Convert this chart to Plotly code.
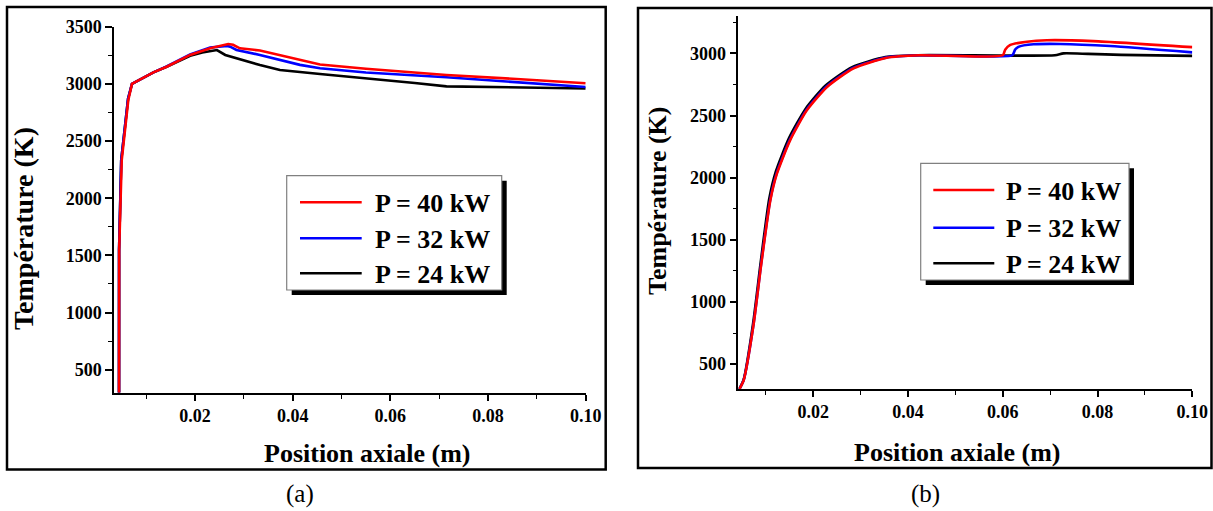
import plotly.graph_objects as go

W, H = 1213, 511

# ---------------- data ----------------
series_names = ["P = 40 kW", "P = 32 kW", "P = 24 kW"]
series_colors = ["#ff0000", "#0000ff", "#000000"]

# panel (a)
xa_40 = [0.00445, 0.00448, 0.0050, 0.0058, 0.00635, 0.0071, 0.0100, 0.0115, 0.0142, 0.0190, 0.0231,
         0.0255, 0.0268, 0.0278, 0.0292, 0.0333, 0.0374, 0.0415, 0.0456, 0.0550, 0.0715, 0.0850, 0.1000]
ya_40 = [300, 1550, 2334, 2625, 2860, 3000, 3068, 3100, 3150, 3253, 3311,
         3335, 3349, 3342, 3311, 3292, 3253, 3209, 3170, 3132, 3078, 3045, 3005]

xa_32 = [0.00445, 0.00446, 0.0049, 0.0057, 0.0063, 0.0071, 0.0100, 0.0115, 0.0142, 0.0190, 0.0231,
         0.0255, 0.0266, 0.0272, 0.0285, 0.0333, 0.0374, 0.0415, 0.0456, 0.0550, 0.0715, 0.0850, 0.1000]
ya_32 = [300, 1550, 2334, 2640, 2870, 3000, 3068, 3100, 3152, 3258, 3318,
         3330, 3332, 3325, 3296, 3253, 3209, 3166, 3136, 3100, 3058, 3018, 2972]

xa_24 = [0.00445, 0.00446, 0.0049, 0.0057, 0.0063, 0.0071, 0.0100, 0.0115, 0.0142, 0.0190, 0.0215,
         0.0235, 0.0245, 0.0262, 0.0292, 0.0333, 0.0374, 0.0395, 0.0415, 0.0456, 0.0550, 0.0650,
         0.0715, 0.0850, 0.1000]
ya_24 = [300, 1550, 2334, 2640, 2870, 3000, 3068, 3100, 3150, 3245, 3275,
         3292, 3296, 3253, 3215, 3165, 3122, 3110, 3104, 3086, 3050, 3008,
         2978, 2968, 2960]

# panel (b)
xb_40 = [0.0044, 0.0053, 0.0074, 0.0090, 0.0109, 0.0123, 0.0151, 0.0186, 0.0229, 0.0285, 0.0355,
         0.0425, 0.0600, 0.0605, 0.0615, 0.0651, 0.0693, 0.0791, 0.1000]
yb_40 = [300, 370, 820, 1300, 1810, 2030, 2300, 2540, 2730, 2880, 2965,
         2985, 2985, 3030, 3067, 3094, 3106, 3099, 3050]

xb_32 = [0.0044, 0.0053, 0.0074, 0.0090, 0.0109, 0.0123, 0.0151, 0.0186, 0.0229, 0.0285, 0.0355,
         0.0425, 0.0620, 0.0626, 0.0633, 0.0665, 0.0721, 0.0827, 0.1000]
yb_32 = [300, 372, 825, 1310, 1820, 2040, 2310, 2548, 2737, 2885, 2968,
         2985, 2985, 3030, 3053, 3073, 3076, 3059, 3008]

xb_24 = [0.0044, 0.0053, 0.0073, 0.0089, 0.0107, 0.0121, 0.0149, 0.0184, 0.0226, 0.0282, 0.0352,
         0.0420, 0.0710, 0.0728, 0.0780, 0.0850, 0.1000]
yb_24 = [300, 375, 830, 1320, 1830, 2050, 2320, 2555, 2742, 2890, 2970,
         2985, 2985, 3000, 2996, 2988, 2980]

# axes ticks / ranges
xa_range = [0.00342, 0.1]
ya_range = [296, 3500]
xb_range = [0.00417, 0.1]
yb_range = [300, 3300]
x_dtick, x_minor = 0.02, 0.01
y_dtick, y_minor = 500, 250

axis_title_x = "Position axiale (m)"
axis_title_y = "Température (K)"
panel_labels = ["(a)", "(b)"]

# ---------------- figure ----------------
def px(x):
    return x / W


def py(y):
    return 1 - y / H


SERIF = "Liberation Serif, Times New Roman, serif"

fig = go.Figure()

panel_a = [(xa_24, ya_24, 2), (xa_32, ya_32, 1), (xa_40, ya_40, 0)]
panel_b = [(xb_24, yb_24, 2), (xb_32, yb_32, 1), (xb_40, yb_40, 0)]

for xs, ys, i in panel_a:
    fig.add_trace(go.Scatter(x=xs, y=ys, mode="lines", name=series_names[i],
                             line=dict(color=series_colors[i], width=2.6),
                             xaxis="x", yaxis="y", showlegend=False))
for xs, ys, i in panel_b:
    fig.add_trace(go.Scatter(x=xs, y=ys, mode="lines", name=series_names[i],
                             line=dict(color=series_colors[i], width=2.6, shape="spline", smoothing=0.6),
                             xaxis="x2", yaxis="y2", showlegend=False))

tickfont = dict(family=SERIF, size=18, color="black", weight="bold")


def xaxis_cfg(domain, rng, anchor):
    return dict(domain=domain, range=rng, anchor=anchor, showline=True, linecolor="black",
                linewidth=1.5, ticks="outside", ticklen=6, tickwidth=1.5, tickcolor="black",
                tick0=0, dtick=x_dtick, tickformat=".2f", tickfont=tickfont,
                showgrid=False, zeroline=False, automargin=False,
                minor=dict(ticks="outside", ticklen=4, tickwidth=1.3, tickcolor="black",
                           tick0=0, dtick=x_minor, showgrid=False))


def yaxis_cfg(domain, rng, anchor):
    return dict(domain=domain, range=rng, anchor=anchor, showline=True, linecolor="black",
                linewidth=1.5, ticks="outside", ticklen=7, tickwidth=1.5, tickcolor="black",
                tick0=0, dtick=y_dtick, tickformat="d", tickfont=tickfont,
                showgrid=False, zeroline=False, automargin=False,
                minor=dict(ticks="outside", ticklen=4, tickwidth=1.3, tickcolor="black",
                           tick0=0, dtick=y_minor, showgrid=False))


fig.update_layout(
    template="none",
    width=W, height=H, autosize=False,
    margin=dict(l=0, r=0, t=0, b=0, pad=0, autoexpand=False),
    paper_bgcolor="white", plot_bgcolor="white",
    xaxis=xaxis_cfg([px(114), px(585.7)], xa_range, "y"),
    yaxis=yaxis_cfg([py(393), py(26.7)], ya_range, "x"),
    xaxis2=xaxis_cfg([px(738.3), px(1192.3)], xb_range, "y2"),
    yaxis2=yaxis_cfg([py(389), py(16.1)], yb_range, "x2"),
    showlegend=False,
)

shapes = []
annotations = []

# panel borders
for (x0, y0, x1, y1) in [(7, 7, 605.7, 469.5), (638, 8, 1211.5, 468)]:
    shapes.append(dict(type="rect", xref="paper", yref="paper",
                       x0=px(x0), x1=px(x1), y0=py(y1), y1=py(y0),
                       line=dict(color="black", width=2.5), fillcolor="rgba(0,0,0,0)"))

# axis titles
title_font = dict(family=SERIF, color="black", weight="bold")
annotations += [
    dict(text=axis_title_x, x=px(367), y=py(453), xref="paper", yref="paper", showarrow=False,
         xanchor="center", yanchor="middle", font=dict(size=26, **title_font)),
    dict(text=axis_title_y, x=px(24), y=py(229), xref="paper", yref="paper", showarrow=False,
         xanchor="center", yanchor="middle", textangle=-90, font=dict(size=28, **title_font)),
    dict(text=axis_title_x, x=px(957), y=py(452), xref="paper", yref="paper", showarrow=False,
         xanchor="center", yanchor="middle", font=dict(size=26, **title_font)),
    dict(text=axis_title_y, x=px(658), y=py(201), xref="paper", yref="paper", showarrow=False,
         xanchor="center", yanchor="middle", textangle=-90, font=dict(size=26, **title_font)),
    dict(text=panel_labels[0], x=px(300), y=py(494), xref="paper", yref="paper", showarrow=False,
         xanchor="center", yanchor="middle", font=dict(family=SERIF, size=25, color="black")),
    dict(text=panel_labels[1], x=px(925), y=py(494), xref="paper", yref="paper", showarrow=False,
         xanchor="center", yanchor="middle", font=dict(family=SERIF, size=25, color="black")),
]

# legends (box + shadow + samples + labels)
legends = [
    dict(box=(286.7, 175.7, 501.7, 290), line_x=(300, 361.7), text_x=373, ys=(202.3, 238.3, 273.3)),
    dict(box=(920.7, 163.3, 1129, 280), line_x=(933.3, 994.3), text_x=1004, ys=(190, 227.7, 263.3)),
]
for lg in legends:
    bx0, by0, bx1, by1 = lg["box"]
    shapes.append(dict(type="rect", xref="paper", yref="paper",
                       x0=px(bx0 + 5), x1=px(bx1 + 5), y0=py(by1 + 5), y1=py(by0 + 5),
                       line=dict(width=0), fillcolor="black", layer="above"))
    shapes.append(dict(type="rect", xref="paper", yref="paper",
                       x0=px(bx0), x1=px(bx1), y0=py(by1), y1=py(by0),
                       line=dict(color="#808080", width=1.2), fillcolor="white", layer="above"))
    for i, yy in enumerate(lg["ys"]):
        shapes.append(dict(type="line", xref="paper", yref="paper",
                           x0=px(lg["line_x"][0]), x1=px(lg["line_x"][1]), y0=py(yy), y1=py(yy),
                           line=dict(color=series_colors[i], width=2.6), layer="above"))
        annotations.append(dict(text=series_names[i], x=px(lg["text_x"]), y=py(yy + 1),
                                xref="paper", yref="paper", showarrow=False,
                                xanchor="left", yanchor="middle",
                                font=dict(family=SERIF, size=26, color="black", weight="bold")))

fig.update_layout(shapes=shapes, annotations=annotations)

fig.write_html(
    "out.html",
    config={"displayModeBar": False},
    post_script="document.body.style.margin='0';document.body.style.overflow='hidden';",
)
